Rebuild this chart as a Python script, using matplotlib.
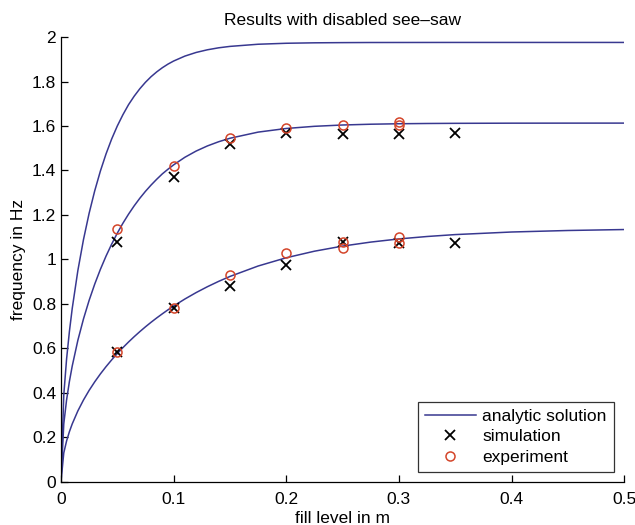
import numpy as np
import matplotlib.pyplot as plt

plt.rcParams['font.family'] = ['Liberation Sans', 'DejaVu Sans']

# fill level (m) where the analytic curves were read
h_curve = [0, 0.0025, 0.005, 0.0075, 0.01, 0.015, 0.02, 0.025, 0.03, 0.035,
           0.04, 0.045, 0.05, 0.055, 0.06, 0.065, 0.07, 0.075, 0.08, 0.085,
           0.09, 0.095, 0.1, 0.11, 0.12, 0.13, 0.14, 0.15, 0.175, 0.2, 0.225,
           0.25, 0.275, 0.3, 0.325, 0.35, 0.4, 0.45, 0.5]
# analytic solution, three modes
f_mode1 = [0, 0.1305, 0.1845, 0.2260, 0.2609, 0.3193, 0.3684, 0.4116, 0.4502,
           0.4856, 0.5182, 0.5486, 0.5771, 0.6038, 0.6291, 0.6530, 0.6757,
           0.6973, 0.7178, 0.7373, 0.7558, 0.7737, 0.7907, 0.8223, 0.8512,
           0.8776, 0.9017, 0.9237, 0.9706, 1.0078, 1.0372, 1.0602, 1.0782,
           1.0924, 1.1033, 1.1119, 1.1235, 1.1303, 1.1346]
f_mode2 = [0, 0.2610, 0.3690, 0.4517, 0.5210, 0.6367, 0.7329, 0.8162, 0.8897,
           0.9556, 1.0151, 1.0689, 1.1182, 1.1630, 1.2038, 1.2411, 1.2752,
           1.3063, 1.3346, 1.3606, 1.3849, 1.4057, 1.4253, 1.4594, 1.4874,
           1.5104, 1.5293, 1.5449, 1.5725, 1.5889, 1.5986, 1.6045, 1.6080,
           1.6101, 1.6113, 1.6120, 1.6127, 1.6129, 1.6130]
f_mode3 = [0, 0.3914, 0.5531, 0.6765, 0.7798, 0.9502, 1.0897, 1.2077, 1.3092,
           1.3975, 1.4743, 1.5414, 1.5999, 1.6508, 1.6960, 1.7340, 1.7674,
           1.7965, 1.8217, 1.8432, 1.8620, 1.8782, 1.8920, 1.9142, 1.9306,
           1.9426, 1.9515, 1.9578, 1.9675, 1.9719, 1.9739, 1.9748, 1.9753,
           1.9754, 1.9755, 1.9756, 1.9756, 1.9756, 1.9756]

# simulation
h_sim = [0.05, 0.1, 0.15, 0.2, 0.25, 0.3, 0.35,
         0.05, 0.1, 0.15, 0.2, 0.25, 0.3, 0.35]
f_sim = [1.08, 1.372, 1.518, 1.567, 1.564, 1.564, 1.567,
         0.586, 0.783, 0.881, 0.975, 1.08, 1.073, 1.073]

# experiment
h_exp = [0.05, 0.1, 0.15, 0.2, 0.25, 0.3, 0.3,
         0.05, 0.1, 0.15, 0.2, 0.25, 0.25, 0.3, 0.3]
f_exp = [1.136, 1.42, 1.545, 1.59, 1.605, 1.619, 1.605,
         0.586, 0.783, 0.93, 1.028, 1.08, 1.05, 1.103, 1.076]

blue = '#383890'
red = '#d4452a'
fs = 12.5

fig = plt.figure(figsize=(6.35, 5.25), dpi=100)
ax = fig.add_axes([0.096, 0.082, 0.887, 0.8475])

ax.plot(h_curve, f_mode3, color=blue, lw=1.1, label='analytic solution')
ax.plot(h_curve, f_mode2, color=blue, lw=1.1)
ax.plot(h_curve, f_mode1, color=blue, lw=1.1)
ax.plot(h_sim, f_sim, 'x', color='black', ms=7.5, mew=1.3, label='simulation')
ax.plot(h_exp, f_exp, 'o', mfc='none', mec=red, ms=6.5, mew=1.1,
        label='experiment')

ax.set_xlim(0, 0.5)
ax.set_ylim(0, 2)
ax.set_xticks(np.arange(0, 0.51, 0.1))
ax.set_xticklabels(['0', '0.1', '0.2', '0.3', '0.4', '0.5'])
ax.set_yticks(np.arange(0, 2.01, 0.2))
ax.set_yticklabels(['0', '0.2', '0.4', '0.6', '0.8', '1', '1.2', '1.4',
                    '1.6', '1.8', '2'])
ax.tick_params(direction='in', length=5, labelsize=fs, width=0.9)
ax.tick_params(axis='x', pad=7)
ax.spines['top'].set_visible(False)
ax.spines['right'].set_visible(False)
for s in ['left', 'bottom']:
    ax.spines[s].set_linewidth(0.9)

ax.set_xlabel('fill level in m', fontsize=fs, labelpad=3)
ax.set_ylabel('frequency in Hz', fontsize=fs, labelpad=4)
ax.set_title('Results with disabled see\u2013saw', fontsize=fs, pad=9)

leg = ax.legend(loc='lower right', fontsize=fs, frameon=True, fancybox=False,
                edgecolor='black', borderpad=0.4, labelspacing=0.3,
                handlelength=2.9, handletextpad=0.4, borderaxespad=0.6)
leg.get_frame().set_linewidth(0.9)

fig.savefig('out.png', dpi=100)
